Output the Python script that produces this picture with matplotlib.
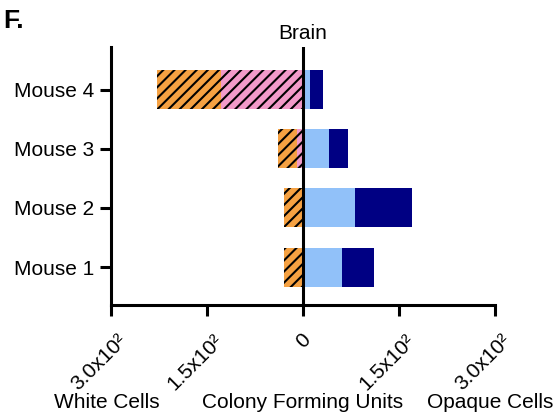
import matplotlib.pyplot as plt
import numpy as np

plt.rcParams['font.family'] = ['Liberation Sans', 'DejaVu Sans']
plt.rcParams['hatch.linewidth'] = 1.5

mice = ["Mouse 1", "Mouse 2", "Mouse 3", "Mouse 4"]
# white cells (drawn to the left of zero)
white_pink = [0, 0, 9, 128]
white_orange = [29, 29, 30, 100]
# opaque cells (drawn to the right of zero)
opaque_light = [61, 81, 41, 11]
opaque_dark = [50, 89, 30, 20]

xticks = [-300, -150, 0, 150, 300]
xticklabels = ["3.0x10²", "1.5x10²", "0", "1.5x10²", "3.0x10²"]

orange = "#F5A142"
pink = "#F29AC9"
light = "#91C1F9"
dark = "#000083"

fig = plt.figure(figsize=(5.57, 4.16), dpi=100)
ax = fig.add_axes([0.199, 0.267, 0.69, 0.62])

y = np.arange(len(mice))
h = 0.66
wp = -np.array(white_pink)
wo = -np.array(white_orange)
ax.barh(y, wp, height=h, color=pink, edgecolor="black", linewidth=0, hatch="///")
ax.barh(y, wo, left=wp, height=h, color=orange, edgecolor="black", linewidth=0, hatch="///")
ax.barh(y, opaque_light, height=h, color=light, linewidth=0)
ax.barh(y, opaque_dark, left=opaque_light, height=h, color=dark, linewidth=0)

ax.axvline(0, color="black", lw=2.2)

ax.set_xlim(-300, 300)
ax.set_ylim(-0.64, 3.72)
ax.set_yticks(y)
ax.set_yticklabels(mice, fontsize=15)
ax.set_xticks(xticks)
ax.set_xticklabels([])
ax.tick_params(axis="both", width=2.2, length=8, color="black")
ax.tick_params(axis="y", pad=4)

# rotated tick labels, placed by hand (offsets in pixels)
for xt, lab in zip(xticks, xticklabels):
    off = (5, -32) if lab == "0" else (13, -33)
    ax.annotate(lab, xy=(xt, 0), xycoords=("data", "axes fraction"),
                xytext=off, textcoords="offset pixels", fontsize=15,
                rotation=45, ha="right", va="center", rotation_mode="anchor",
                annotation_clip=False)

for s in ["top", "right"]:
    ax.spines[s].set_visible(False)
for s in ["left", "bottom"]:
    ax.spines[s].set_linewidth(2.2)

ax.set_title("Brain", fontsize=15, pad=6)

fig.text(0.006, 0.978, "F.", fontsize=19, fontweight="bold", va="top", ha="left")
fig.text(107 / 557, 1 - 403 / 416, "White Cells", fontsize=15, ha="center", va="center")
fig.text(303 / 557, 1 - 403 / 416, "Colony Forming Units", fontsize=15, ha="center", va="center")
fig.text(490 / 557, 1 - 403 / 416, "Opaque Cells", fontsize=15, ha="center", va="center")

fig.savefig("out.png", dpi=100)
